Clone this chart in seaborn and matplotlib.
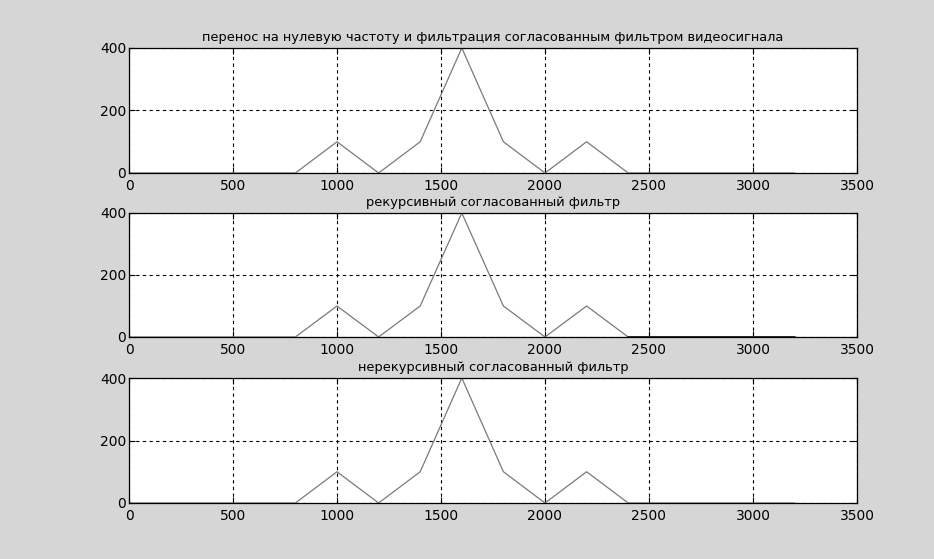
import matplotlib
matplotlib.use("Agg")
import matplotlib.pyplot as plt
import seaborn as sns
import pandas as pd

freq = [0, 200, 400, 600, 800, 1000, 1200, 1400, 1600, 1800, 2000, 2200, 2400, 2600, 2800, 3000, 3200]
spec_shift = [0, 0, 0, 0, 0, 100, 0, 100, 400, 100, 0, 100, 0, 0, 0, 0, 0]
spec_recursive = [0, 0, 0, 0, 0, 100, 0, 100, 400, 100, 0, 100, 0, 0, 0, 0, 0]
spec_nonrecursive = [0, 0, 0, 0, 0, 100, 0, 100, 400, 100, 0, 100, 0, 0, 0, 0, 0]
titles = [
    "перенос на нулевую частоту и фильтрация согласованным фильтром видеосигнала",
    "рекурсивный согласованный фильтр",
    "нерекурсивный согласованный фильтр",
]
xticks = [0, 500, 1000, 1500, 2000, 2500, 3000, 3500]
yticks = [0, 200, 400]

sns.set_style("white")
plt.rcParams['font.family'] = ['DejaVu Sans']
plt.rcParams['text.color'] = 'black'
plt.rcParams['xtick.color'] = 'black'
plt.rcParams['ytick.color'] = 'black'

bg = '#d6d6d6'
fig = plt.figure(figsize=(9.34, 5.59), dpi=100, facecolor=bg)

boxes = [
    (129 / 934, 1 - 173 / 559, 728 / 934, 125 / 559),
    (129 / 934, 1 - 337 / 559, 728 / 934, 124 / 559),
    (129 / 934, 1 - 503 / 559, 728 / 934, 125 / 559),
]
series = [spec_shift, spec_recursive, spec_nonrecursive]

for i, (box, y, title) in enumerate(zip(boxes, series, titles)):
    ax = fig.add_axes(box)
    ax.set_facecolor('white')
    df = pd.DataFrame({"f": freq, "a": y})
    sns.lineplot(data=df, x="f", y="a", ax=ax, color='#7a7a7a', linewidth=0.9)
    if i == 1:
        tail = df[df["f"] >= 2400]
        sns.lineplot(data=tail, x="f", y="a", ax=ax, color='#222222', linewidth=1.3)
    ax.set_xlim(0, 3500)
    ax.set_ylim(0, 400)
    ax.set_xticks(xticks)
    ax.set_yticks(yticks)
    ax.set_xticklabels([str(t) for t in xticks], fontsize=10)
    ax.set_yticklabels([str(t) for t in yticks], fontsize=10)
    ax.set_xlabel("")
    ax.set_ylabel("")
    ax.grid(True, color='black', linestyle=(0, (3, 3)), linewidth=0.8)
    ax.tick_params(direction='in', length=4, color='black', labelcolor='black',
                   top=True, right=True, bottom=True, left=True)
    ax.tick_params(axis='x', pad=4)
    ax.tick_params(axis='y', pad=2)
    for s in ax.spines.values():
        s.set_color('black')
        s.set_linewidth(0.9)
    ax.set_title(title, fontsize=9.4, pad=5, color='black')

fig.savefig("out.png", dpi=100, facecolor=bg)
